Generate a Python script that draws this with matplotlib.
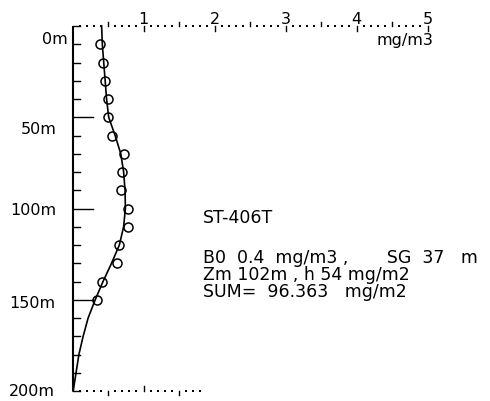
import numpy as np
import matplotlib
matplotlib.use("Agg")
import matplotlib.pyplot as plt

# Observed chlorophyll samples (depth in m, concentration in mg/m3)
obs_depth = [10, 20, 30, 40, 50, 60, 70, 80, 90, 100, 110, 120, 130, 140, 150]
obs_chl = [0.39, 0.43, 0.46, 0.50, 0.50, 0.55, 0.73, 0.70, 0.69, 0.78, 0.78,
           0.65, 0.62, 0.41, 0.34]

# Fitted profile
fit_depth = [0, 10, 20, 30, 40, 50, 60, 70, 80, 90, 100, 110, 120, 130, 140,
             150, 160, 170, 180, 190, 200]
fit_chl = [0.41, 0.42, 0.44, 0.46, 0.48, 0.51, 0.60, 0.68, 0.72, 0.74, 0.745,
           0.72, 0.66, 0.55, 0.43, 0.32, 0.22, 0.15, 0.09, 0.05, 0.01]

x_ticks = [1, 2, 3, 4, 5]
depth_labels = ["0m", "50m", "100m", "150m", "200m"]
station = "ST-406T"
info_lines = ["B0  0.4  mg/m3 ,       SG  37   m",
              "Zm 102m , h 54 mg/m2",
              "SUM=  96.363   mg/m2"]
unit = "mg/m3"

W, H = 490, 402
fig = plt.figure(figsize=(W / 100, H / 100), dpi=100)
x0_px, x5_px = 72.5, 427.5
top_px, bot_px = 27.0, 392.0
ax = fig.add_axes([x0_px / W, (H - bot_px) / H,
                   (x5_px - x0_px) / W, (bot_px - top_px) / H])
ax.set_xlim(0, 5)
ax.set_ylim(200, 0)
ax.axis("off")

px_x = 5 / (x5_px - x0_px)      # data units per pixel (x)
px_y = 200 / (bot_px - top_px)  # metres per pixel (y)
ink = "black"
font = ["DejaVu Sans"]

# depth axis
ax.plot([0, 0], [0, 200], color=ink, lw=1.5, clip_on=False, solid_capstyle="butt")
for d in range(0, 201, 10):
    length = 20 if d in (50, 100, 150) else 7
    ax.plot([0, length * px_x], [d, d], color=ink, lw=1.0, clip_on=False)

# dotted concentration scales (top full, bottom partial)
def dotted_scale(depth, xmax, tick_dir):
    xs = [k / 10 for k in range(1, int(round(xmax * 10)) + 1) if k % 5 != 0]
    ax.plot(xs, [depth] * len(xs), ls="none", marker="s", ms=1.6,
            mew=0, color=ink, clip_on=False)
    for k in range(5, int(round(xmax * 10)) + 1, 5):
        v = k / 10
        if k % 10 == 0:
            ax.plot([v, v], [depth, depth + tick_dir * 5 * px_y], color=ink,
                    lw=1.0, clip_on=False)
        else:
            ax.plot([v, v], [depth, depth - tick_dir * 4 * px_y], color=ink,
                    lw=1.0, clip_on=False)

dotted_scale(0, 5.0, 1)
dotted_scale(200, 1.8, -1)

for v in x_ticks:
    ax.text(v, -1.8, str(v), ha="center", va="baseline", fontsize=11.5,
            family=font, color=ink, clip_on=False)
ax.text(5.08, 7.5, unit, ha="right", va="center", fontsize=11.5,
        family=font, color=ink, clip_on=False)

# depth labels
label_pos = [(-0.06, 7.0), (-0.23, 56.0), (-0.23, 100.5), (-0.245, 151.5),
             (-0.245, 199.5)]
for (lx, ly), s in zip(label_pos, depth_labels):
    ax.text(lx, ly, s, ha="right", va="center", fontsize=11.5, family=font,
            color=ink, clip_on=False)

# profile
ax.plot(fit_chl, fit_depth, color=ink, lw=1.2, clip_on=False)
ax.plot(obs_chl, obs_depth, ls="none", marker="o", ms=6.5, mfc="none",
        mec=ink, mew=1.1, clip_on=False)

# station info
tx = (203 - x0_px) * px_x
ax.text(tx, (223 - top_px) * px_y, station, ha="left", va="baseline",
        fontsize=12.5, family=font, color=ink, clip_on=False)
ax.text(tx, (249 - top_px) * px_y, "\n".join(info_lines), ha="left",
        va="top", fontsize=12.5, family=font, color=ink, linespacing=0.93,
        clip_on=False)

fig.savefig("out.png", dpi=100, facecolor="white")
